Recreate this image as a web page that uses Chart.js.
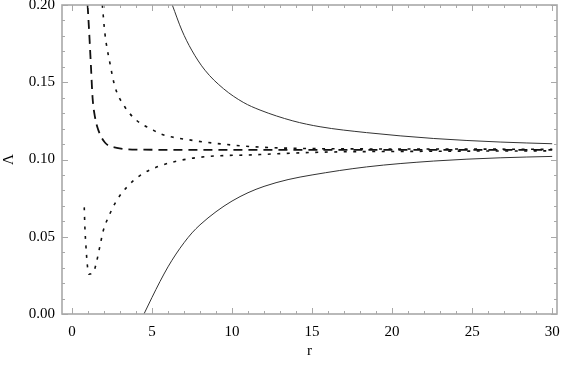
<!DOCTYPE html>
<html>
<head>
<meta charset="utf-8">
<script src="https://cdn.jsdelivr.net/npm/chart.js@4/dist/chart.umd.min.js"></script>
<style>
  html, body { margin: 0; padding: 0; background: #fff; }
  #wrap { width: 563px; height: 366px; }
</style>
</head>
<body>
<div id="wrap"><canvas id="c" width="563" height="366"></canvas></div>
<script>
// Tick labels
const xTickValues = [0, 5, 10, 15, 20, 25, 30];
const yTickValues = [0.00, 0.05, 0.10, 0.15, 0.20];

// Upper solid curve
const solidUpperX = [6.27, 6.86, 7.48, 8.31, 9.46, 10.7, 11.75, 13.8, 15.5, 18.4, 22.6, 26.75, 30];
const solidUpperY = [0.200, 0.1838, 0.1708, 0.1578, 0.1459, 0.137, 0.132, 0.125, 0.1212, 0.1174, 0.1136, 0.1113, 0.1102];

// Lower solid curve
const solidLowerX = [4.5, 5.0, 5.5, 6.0, 6.5, 7.0, 7.5, 8.0, 9.0, 10.0, 11.0, 12.0, 13.5, 15.0, 18.4, 22.6, 26.75, 30];
const solidLowerY = [0.000, 0.0107, 0.0210, 0.0305, 0.0388, 0.0461, 0.0525, 0.0577, 0.0662, 0.0731, 0.0785, 0.0826, 0.0870, 0.0900, 0.0952, 0.0990, 0.1011, 0.102];

// Dashed curve
const dashedX = [0.98, 1.08, 1.19, 1.29, 1.44, 1.65, 2.06, 2.8, 4.25, 8, 15, 22, 30];
const dashedY = [0.200, 0.182, 0.160, 0.140, 0.1275, 0.119, 0.111, 0.1076, 0.1064, 0.1062, 0.1062, 0.1062, 0.1062];

// Upper dotted curve
const dottedUpperX = [1.9, 2.06, 2.38, 2.69, 3.31, 4.04, 5.08, 5.5, 7.58, 9.67, 11.75, 15.5, 22, 30];
const dottedUpperY = [0.200, 0.1816, 0.162, 0.147, 0.134, 0.1253, 0.119, 0.1167, 0.1123, 0.1097, 0.108, 0.107, 0.1068, 0.1066];

// Lower dotted curve
const dottedLowerX = [0.77, 0.81, 0.875, 0.96, 1.06, 1.33, 1.5, 1.75, 1.96, 2.27, 2.79, 3.42, 4.25, 5.4, 7.58, 11.75, 15.5, 22, 30];
const dottedLowerY = [0.069, 0.056, 0.044, 0.032, 0.0258, 0.0268, 0.032, 0.044, 0.054, 0.0625, 0.0734, 0.082, 0.0896, 0.0955, 0.1009, 0.1032, 0.1047, 0.1053, 0.1056];

const pts = (xs, ys) => xs.map((x, i) => ({ x: x, y: ys[i] }));

const frameColor = '#a8a8a8';
const serif = '"Liberation Serif", "DejaVu Serif", serif';

const framePlugin = {
  id: 'frame',
  afterDatasetsDraw(chart) {
    const { ctx, chartArea: a, scales } = chart;
    const xs = scales.x, ys = scales.y;
    ctx.save();
    ctx.strokeStyle = frameColor;
    ctx.lineWidth = 1;
    for (let v = 0; v <= 30; v += 1) {
      const px = Math.round(xs.getPixelForValue(v)) + 0.5;
      const len = (v % 5 === 0) ? 6 : 3;
      ctx.beginPath();
      ctx.moveTo(px, a.bottom); ctx.lineTo(px, a.bottom - len);
      ctx.moveTo(px, a.top); ctx.lineTo(px, a.top + len);
      ctx.stroke();
    }
    for (let k = 0; k <= 20; k++) {
      const v = k / 100;
      const py = Math.round(ys.getPixelForValue(v)) + 0.5;
      const len = (k % 5 === 0) ? 6 : 3;
      ctx.beginPath();
      ctx.moveTo(a.left, py); ctx.lineTo(a.left + len, py);
      ctx.moveTo(a.right, py); ctx.lineTo(a.right - len, py);
      ctx.stroke();
    }
    ctx.lineWidth = 1.6;
    ctx.strokeRect(a.left, a.top, a.right - a.left, a.bottom - a.top);
    ctx.restore();
  }
};

new Chart(document.getElementById('c'), {
  type: 'line',
  data: {
    datasets: [
      { data: pts(solidUpperX, solidUpperY), borderColor: '#333', borderWidth: 1 },
      { data: pts(solidLowerX, solidLowerY), borderColor: '#333', borderWidth: 1 },
      { data: pts(dashedX, dashedY), borderColor: '#111', borderWidth: 1.8, borderDash: [9, 6] },
      { data: pts(dottedUpperX, dottedUpperY), borderColor: '#111', borderWidth: 1.6, borderDash: [3, 6.5] },
      { data: pts(dottedLowerX, dottedLowerY), borderColor: '#111', borderWidth: 1.6, borderDash: [3, 6.5] }
    ]
  },
  options: {
    responsive: false,
    animation: false,
    events: [],
    layout: { padding: { top: 5, right: 6, left: 0, bottom: 4 } },
    elements: {
      point: { radius: 0 },
      line: { cubicInterpolationMode: 'monotone', fill: false }
    },
    plugins: { legend: { display: false }, tooltip: { enabled: false } },
    scales: {
      x: {
        type: 'linear',
        min: -0.62,
        max: 30.3,
        afterBuildTicks: (s) => { s.ticks = xTickValues.map(v => ({ value: v })); },
        afterFit: (s) => { s.height = 48; s.paddingLeft = 0; s.paddingRight = 0; },
        grid: { display: false, drawTicks: false },
        border: { display: false },
        ticks: {
          color: '#000', padding: 9,
          font: { family: serif, size: 15 },
          callback: (v) => String(v),
          maxRotation: 0, autoSkip: false
        },
        title: { display: true, text: 'r', color: '#000', font: { family: serif, size: 15 }, padding: { top: 0, bottom: 2 } }
      },
      y: {
        type: 'linear',
        min: 0,
        max: 0.2,
        afterBuildTicks: (s) => { s.ticks = yTickValues.map(v => ({ value: v })); },
        afterFit: (s) => { s.width = 62; s.paddingTop = 0; s.paddingBottom = 0; },
        grid: { display: false, drawTicks: false },
        border: { display: false },
        ticks: {
          color: '#000', padding: 7,
          font: { family: serif, size: 15 },
          callback: (v) => Number(v).toFixed(2),
          autoSkip: false
        },
        title: { display: true, text: 'Λ', color: '#000', font: { family: serif, size: 15 }, padding: { top: 0, bottom: 0 } }
      }
    }
  },
  plugins: [framePlugin]
});
</script>
</body>
</html>
